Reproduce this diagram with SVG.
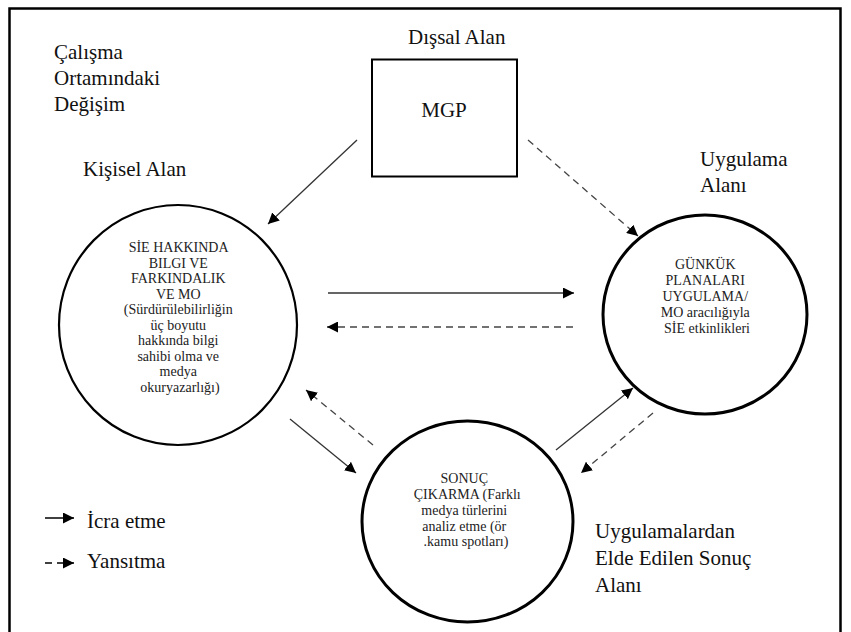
<svg xmlns="http://www.w3.org/2000/svg" width="851" height="632" viewBox="0 0 851 632">
<defs>
<style>
text{font-family:'Liberation Serif','Times New Roman',serif}
.lbl{font-size:21px;fill:#111}
.in{font-size:14px;fill:#222;text-anchor:middle}
.solid{stroke:#333;stroke-width:1.3;fill:none}
.dash{stroke:#444;stroke-width:1.3;fill:none;stroke-dasharray:7 5}
.node{fill:#fff;stroke:#000}
</style>
<marker id="ah" viewBox="0 0 10 10" refX="10" refY="5" markerWidth="11" markerHeight="11" markerUnits="userSpaceOnUse" orient="auto">
<path d="M0,0 L10,5 L0,10 z" fill="#000"/>
</marker>
</defs>
<rect width="851" height="632" fill="#fff"/>
<path d="M9.5,640 V8.5 H840.5 V640" fill="none" stroke="#000" stroke-width="2.5"/>

<g id="labels">
<text class="lbl" x="54" y="59">Çalışma</text>
<text class="lbl" x="54" y="85">Ortamındaki</text>
<text class="lbl" x="54" y="111">Değişim</text>
<text class="lbl" x="83" y="176">Kişisel Alan</text>
<text class="lbl" x="408" y="44">Dışsal Alan</text>
<text class="lbl" x="700" y="166">Uygulama</text>
<text class="lbl" x="700" y="192">Alanı</text>
<text class="lbl" x="595" y="538">Uygulamalardan</text>
<text class="lbl" x="595" y="565">Elde Edilen Sonuç</text>
<text class="lbl" x="595" y="592">Alanı</text>
</g>

<g id="mgp">
<rect class="node" x="372" y="59.5" width="145" height="117" stroke-width="2"/>
<text class="lbl" x="444" y="117" text-anchor="middle">MGP</text>
</g>

<g id="kisisel">
<ellipse class="node" cx="178" cy="325" rx="119" ry="120" stroke-width="2.2"/>
<text class="in">
<tspan x="180" y="252">SİE HAKKINDA</tspan>
<tspan x="180" y="267.5">BILGI VE</tspan>
<tspan x="180" y="283">FARKINDALIK</tspan>
<tspan x="180" y="298.5">VE MO</tspan>
<tspan x="180" y="314">(Sürdürülebilirliğin</tspan>
<tspan x="180" y="329.5">üç boyutu</tspan>
<tspan x="180" y="345">hakkında bilgi</tspan>
<tspan x="180" y="360.5">sahibi olma ve</tspan>
<tspan x="180" y="376">medya</tspan>
<tspan x="180" y="391.5">okuryazarlığı)</tspan>
</text>
</g>

<g id="uygulama">
<ellipse class="node" cx="705" cy="314.5" rx="102" ry="99.5" stroke-width="3"/>
<text class="in">
<tspan x="707" y="269">GÜNKÜK</tspan>
<tspan x="707" y="285">PLANALARI</tspan>
<tspan x="707" y="301">UYGULAMA/</tspan>
<tspan x="707" y="317">MO aracılığıyla</tspan>
<tspan x="707" y="333">SİE etkinlikleri</tspan>
</text>
</g>

<g id="sonuc">
<ellipse class="node" cx="467.5" cy="521.5" rx="105.5" ry="100.5" stroke-width="3"/>
<text class="in">
<tspan x="466" y="483">SONUÇ</tspan>
<tspan x="469" y="499">ÇIKARMA (Farklı</tspan>
<tspan x="466" y="515">medya türlerini</tspan>
<tspan x="466" y="531">analiz etme (ör</tspan>
<tspan x="466" y="546">.kamu spotları)</tspan>
</text>
</g>

<g id="connectors">
<line class="solid" x1="357" y1="140" x2="268" y2="224" marker-end="url(#ah)"/>
<line class="dash" x1="528" y1="140" x2="638" y2="236" marker-end="url(#ah)"/>
<line class="solid" x1="328" y1="293" x2="574" y2="293" marker-end="url(#ah)"/>
<line class="dash" x1="573" y1="327" x2="327" y2="327" marker-end="url(#ah)"/>
<line class="solid" x1="290" y1="419" x2="356" y2="473" marker-end="url(#ah)"/>
<line class="dash" x1="373" y1="445" x2="306" y2="390" marker-end="url(#ah)"/>
<line class="solid" x1="556" y1="450" x2="633" y2="388" marker-end="url(#ah)"/>
<line class="dash" x1="653" y1="413" x2="581" y2="473" marker-end="url(#ah)"/>
</g>

<g id="legend">
<line x1="45" y1="518" x2="74" y2="518" stroke="#000" stroke-width="1.5" marker-end="url(#ah)"/>
<text class="lbl" x="87" y="528">İcra etme</text>
<line x1="45" y1="563" x2="52" y2="563" stroke="#000" stroke-width="1.5"/>
<line x1="57" y1="563" x2="74" y2="563" stroke="#000" stroke-width="1.5" marker-end="url(#ah)"/>
<text class="lbl" x="87" y="568">Yansıtma</text>
</g>
</svg>
